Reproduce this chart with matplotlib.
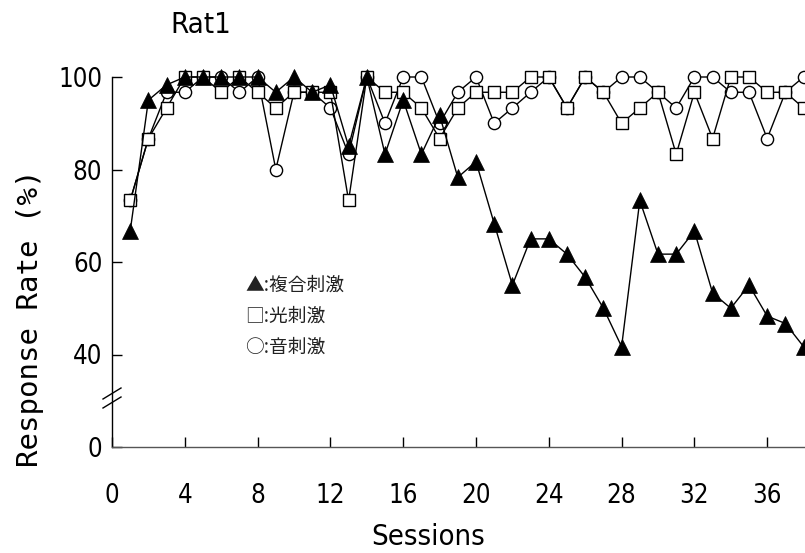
import matplotlib
matplotlib.use("Agg")
import matplotlib.pyplot as plt
from matplotlib.lines import Line2D

sessions = list(range(1, 39))
compound = [66.7, 95.0, 98.3, 100, 100, 100, 100, 100, 96.7, 100,
            96.7, 98.3, 85.0, 100, 83.3, 95.0, 83.3, 91.7, 78.3, 81.7,
            68.3, 55.0, 65.0, 65.0, 61.7, 56.7, 50.0, 41.7, 73.3, 61.7,
            61.7, 66.7, 53.3, 50.0, 55.0, 48.3, 46.7, 41.7]
light = [73.3, 86.7, 93.3, 100, 100, 96.7, 100, 96.7, 93.3, 96.7,
         96.7, 96.7, 73.3, 100, 96.7, 96.7, 93.3, 86.7, 93.3, 96.7,
         96.7, 96.7, 100, 100, 93.3, 100, 96.7, 90.0, 93.3, 96.7,
         83.3, 96.7, 86.7, 100, 100, 96.7, 96.7, 93.3]
sound = [73.3, 86.7, 96.7, 96.7, 100, 100, 96.7, 100, 80.0, 96.7,
         96.7, 93.3, 83.3, 100, 90.0, 100, 100, 90.0, 96.7, 100,
         90.0, 93.3, 96.7, 100, 93.3, 100, 96.7, 100, 100, 96.7,
         93.3, 100, 100, 96.7, 96.7, 86.7, 96.7, 100]

xticks = list(range(0, 37, 4))
yticks = [20, 40, 60, 80, 100]
ytick_labels = ["0", "40", "60", "80", "100"]
legend_labels = ["▲:複合刺激", "□:光刺激", "○:音刺激"]

W, H = 805, 553
fig = plt.figure(figsize=(W / 100, H / 100), dpi=100)

cond = dict(family="DejaVu Sans", stretch="condensed")
mono = dict(family="DejaVu Sans Mono")

# axes geometry in pixels
x0_px, y0_px = 112, 447
px_per_s = 18.2
px_per_v = 4.625
xmax, ymin, ymax = 40, 20, 104
ax = fig.add_axes([x0_px / W, (H - y0_px) / H,
                   xmax * px_per_s / W, (ymax - ymin) * px_per_v / H])
ax.set_xlim(0, xmax)
ax.set_ylim(ymin, ymax)

ax.plot(sessions, sound, color="black", lw=1.0, marker="o", ms=8.8,
        mfc="white", mec="black", mew=1.0, zorder=3)
ax.plot(sessions, light, color="black", lw=1.0, marker="s", ms=8.8,
        mfc="white", mec="black", mew=1.0, zorder=4)
ax.plot(sessions, compound, color="black", lw=1.0, marker="^", ms=11,
        mfc="black", mec="black", mew=0.5, zorder=5)

for s in ["top", "right"]:
    ax.spines[s].set_visible(False)
ax.spines["left"].set_bounds(20, 100)
ax.spines["left"].set_linewidth(1.0)
ax.spines["bottom"].set_linewidth(1.0)
ax.spines["bottom"].set_color("#555555")

ax.set_xticks(xticks)
ax.set_xticklabels([str(t) for t in xticks], fontsize=18.5, **cond)
ax.set_yticks(yticks)
ax.set_yticklabels(ytick_labels, fontsize=18.5, **cond)
ax.tick_params(axis="x", direction="in", length=7, width=1, pad=26)
ax.tick_params(axis="y", direction="in", length=7, width=1, pad=7)

fig.text(201 / W, 1 - 25 / H, "Rat1", ha="center", va="center", fontsize=21, **cond)
fig.text(30 / W, 1 - 318 / H, "Response Rate (%)", ha="center", va="center",
         rotation=90, fontsize=21, **mono)
fig.text(428 / W, 1 - 537 / H, "Sessions", ha="center", va="center", fontsize=21, **cond)

for i, lab in enumerate(legend_labels):
    fig.text(245 / W, 1 - (285 + 31 * i) / H, lab, ha="left", va="center",
             fontsize=13.5, color="#222222",
             family=["Noto Sans CJK JP", "DejaVu Sans"])

# axis break marks
for dy in (0, 9):
    fig.add_artist(Line2D([103 / W, 121 / W],
                          [1 - (399 + dy) / H, 1 - (388 + dy) / H],
                          color="black", lw=1.0))

fig.savefig("out.png", dpi=100)
